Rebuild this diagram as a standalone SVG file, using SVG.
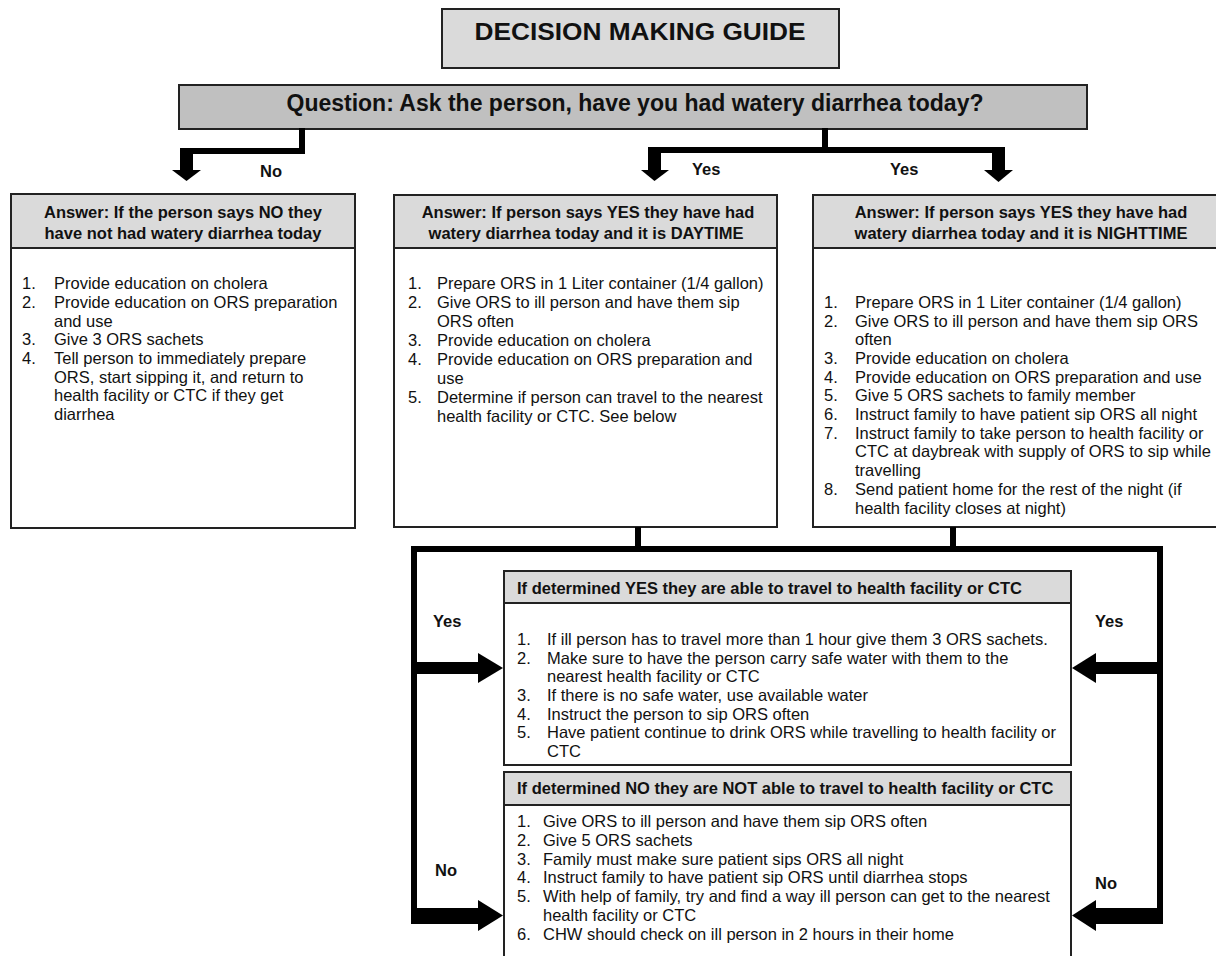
<svg xmlns="http://www.w3.org/2000/svg" width="1216" height="956" viewBox="0 0 1216 956">
  <style>
    text { font-family: "Liberation Sans", Arial, sans-serif; fill: #111; }
    .box { fill: #fff; stroke: #222; stroke-width: 2; }
    .hdr { fill: #dadada; stroke: #222; stroke-width: 2; }
    .qbar { fill: #c0c0c0; stroke: #222; stroke-width: 2; }
    .title { font-size: 24px; font-weight: bold; text-anchor: middle; }
    .q { font-size: 23px; font-weight: bold; text-anchor: middle; }
    .h { font-size: 16.5px; font-weight: bold; text-anchor: middle; }
    .hl { font-size: 16.5px; font-weight: bold; }
    .t { font-size: 16.5px; }
    .lbl { font-size: 16.5px; font-weight: bold; }
    .ln { fill: #000; }
  </style>

  <!-- heading -->
  <g id="title">
    <rect x="442" y="9" width="397" height="59" class="hdr"/>
    <text x="640" y="40" class="title" textLength="331" lengthAdjust="spacingAndGlyphs">DECISION MAKING GUIDE</text>
  </g>

  <g id="question">
    <rect x="179" y="85" width="908" height="44" class="qbar"/>
    <text x="635" y="111" class="q">Question: Ask the person, have you had watery diarrhea today?</text>
  </g>

  <!-- answer: no -->
  <g id="answer-no">
    <rect x="11" y="194" width="344" height="334" class="box"/>
    <rect x="11" y="194" width="344" height="54" class="hdr"/>
    <text x="183" y="218" class="h">Answer: If the person says NO they</text>
    <text x="183" y="239" class="h">have not had watery diarrhea today</text>
    <text y="289" class="t"><tspan x="22">1.</tspan><tspan x="54">Provide education on cholera</tspan></text>
    <text y="308" class="t"><tspan x="22">2.</tspan><tspan x="54">Provide education on ORS preparation</tspan></text>
    <text x="54" y="327" class="t">and use</text>
    <text y="345" class="t"><tspan x="22">3.</tspan><tspan x="54">Give 3 ORS sachets</tspan></text>
    <text y="364" class="t"><tspan x="22">4.</tspan><tspan x="54">Tell person to immediately prepare</tspan></text>
    <text x="54" y="383" class="t">ORS, start sipping it, and return to</text>
    <text x="54" y="401" class="t">health facility or CTC if they get</text>
    <text x="54" y="420" class="t">diarrhea</text>
  </g>

  <!-- answer: yes, daytime -->
  <g id="answer-day">
    <rect x="394" y="195" width="383" height="332" class="box"/>
    <rect x="394" y="195" width="383" height="53" class="hdr"/>
    <text x="588" y="218" class="h">Answer: If person says YES they have had</text>
    <text x="586" y="239" class="h">watery diarrhea today and it is DAYTIME</text>
    <text y="289" class="t"><tspan x="408">1.</tspan><tspan x="437">Prepare ORS in 1 Liter container (1/4 gallon)</tspan></text>
    <text y="308" class="t"><tspan x="408">2.</tspan><tspan x="437">Give ORS to ill person and have them sip</tspan></text>
    <text x="437" y="327" class="t">ORS often</text>
    <text y="346" class="t"><tspan x="408">3.</tspan><tspan x="437">Provide education on cholera</tspan></text>
    <text y="365" class="t"><tspan x="408">4.</tspan><tspan x="437">Provide education on ORS preparation and</tspan></text>
    <text x="437" y="384" class="t">use</text>
    <text y="403" class="t"><tspan x="408">5.</tspan><tspan x="437">Determine if person can travel to the nearest</tspan></text>
    <text x="437" y="422" class="t">health facility or CTC. See below</text>
  </g>

  <!-- answer: yes, nighttime -->
  <g id="answer-night">
    <rect x="813" y="195" width="420" height="332" class="box"/>
    <rect x="813" y="195" width="420" height="53" class="hdr"/>
    <text x="1021" y="218" class="h">Answer: If person says YES they have had</text>
    <text x="1021" y="239" class="h">watery diarrhea today and it is NIGHTTIME</text>
    <text y="308" class="t"><tspan x="824">1.</tspan><tspan x="855">Prepare ORS in 1 Liter container (1/4 gallon)</tspan></text>
    <text y="327" class="t"><tspan x="824">2.</tspan><tspan x="855">Give ORS to ill person and have them sip ORS</tspan></text>
    <text x="855" y="345" class="t">often</text>
    <text y="364" class="t"><tspan x="824">3.</tspan><tspan x="855">Provide education on cholera</tspan></text>
    <text y="383" class="t"><tspan x="824">4.</tspan><tspan x="855">Provide education on ORS preparation and use</tspan></text>
    <text y="401" class="t"><tspan x="824">5.</tspan><tspan x="855">Give 5 ORS sachets to family member</tspan></text>
    <text y="420" class="t"><tspan x="824">6.</tspan><tspan x="855">Instruct family to have patient sip ORS all night</tspan></text>
    <text y="439" class="t"><tspan x="824">7.</tspan><tspan x="855">Instruct family to take person to health facility or</tspan></text>
    <text x="855" y="457" class="t">CTC at daybreak with supply of ORS to sip while</text>
    <text x="855" y="476" class="t">travelling</text>
    <text y="495" class="t"><tspan x="824">8.</tspan><tspan x="855">Send patient home for the rest of the night (if</tspan></text>
    <text x="855" y="514" class="t">health facility closes at night)</text>
  </g>

  <!-- able to travel -->
  <g id="travel-yes">
    <rect x="504" y="571" width="567" height="194" class="box"/>
    <rect x="504" y="571" width="567" height="32" class="hdr"/>
    <text x="517" y="594" class="hl">If determined YES they are able to travel to health facility or CTC</text>
    <text y="645" class="t"><tspan x="517">1.</tspan><tspan x="547">If ill person has to travel more than 1 hour give them 3 ORS sachets.</tspan></text>
    <text y="664" class="t"><tspan x="517">2.</tspan><tspan x="547">Make sure to have the person carry safe water with them to the</tspan></text>
    <text x="547" y="682" class="t">nearest health facility or CTC</text>
    <text y="701" class="t"><tspan x="517">3.</tspan><tspan x="547">If there is no safe water, use available water</tspan></text>
    <text y="720" class="t"><tspan x="517">4.</tspan><tspan x="547">Instruct the person to sip ORS often</tspan></text>
    <text y="738" class="t"><tspan x="517">5.</tspan><tspan x="547">Have patient continue to drink ORS while travelling to health facility or</tspan></text>
    <text x="547" y="757" class="t">CTC</text>
  </g>

  <!-- not able to travel -->
  <g id="travel-no">
    <rect x="504" y="772" width="567" height="190" class="box"/>
    <rect x="504" y="772" width="567" height="33" class="hdr"/>
    <text x="517" y="794" class="hl">If determined NO they are NOT able to travel to health facility or CTC</text>
    <text y="827" class="t"><tspan x="517">1.</tspan><tspan x="543">Give ORS to ill person and have them sip ORS often</tspan></text>
    <text y="846" class="t"><tspan x="517">2.</tspan><tspan x="543">Give 5 ORS sachets</tspan></text>
    <text y="865" class="t"><tspan x="517">3.</tspan><tspan x="543">Family must make sure patient sips ORS all night</tspan></text>
    <text y="883" class="t"><tspan x="517">4.</tspan><tspan x="543">Instruct family to have patient sip ORS until diarrhea stops</tspan></text>
    <text y="902" class="t"><tspan x="517">5.</tspan><tspan x="543">With help of family, try and find a way ill person can get to the nearest</tspan></text>
    <text x="543" y="921" class="t">health facility or CTC</text>
    <text y="940" class="t"><tspan x="517">6.</tspan><tspan x="543">CHW should check on ill person in 2 hours in their home</tspan></text>
  </g>

  <!-- connectors: block elbows and arrows -->
  <g id="connectors">
    <!-- question to "no" -->
    <rect x="299" y="128" width="6" height="26" class="ln"/>
    <rect x="180" y="148" width="125" height="6" class="ln"/>
    <rect x="180" y="148" width="13" height="23" class="ln"/>
    <polygon points="172,170 201,170 186.5,181" class="ln"/>

    <!-- question to the two "yes" boxes -->
    <rect x="822" y="128" width="6" height="25" class="ln"/>
    <rect x="648" y="147" width="357" height="6" class="ln"/>
    <rect x="648" y="147" width="13" height="24" class="ln"/>
    <polygon points="641,170 669,170 654.5,181" class="ln"/>
    <rect x="992" y="147" width="13" height="24" class="ln"/>
    <polygon points="984,170 1013,170 998.5,182" class="ln"/>

    <!-- frame from daytime/nighttime boxes to the travel boxes -->
    <rect x="635" y="527" width="6" height="24" class="ln"/>
    <rect x="950" y="527" width="6" height="24" class="ln"/>
    <rect x="411" y="546" width="752" height="6" class="ln"/>
    <rect x="411" y="546" width="6" height="378" class="ln"/>
    <rect x="1157" y="546" width="6" height="378" class="ln"/>

    <!-- left arrows -->
    <rect x="411" y="662" width="69" height="12" class="ln"/>
    <polygon points="478,653 478,683 503,668" class="ln"/>
    <rect x="411" y="908" width="69" height="16" class="ln"/>
    <polygon points="478,900 478,931 503,915.5" class="ln"/>

    <!-- right arrows -->
    <rect x="1094" y="662" width="69" height="12" class="ln"/>
    <polygon points="1096,653 1096,683 1072,668" class="ln"/>
    <rect x="1094" y="908" width="69" height="16" class="ln"/>
    <polygon points="1096,900 1096,931 1072,915.5" class="ln"/>

    <text x="260" y="177" class="lbl">No</text>
    <text x="692" y="175" class="lbl">Yes</text>
    <text x="890" y="175" class="lbl">Yes</text>
    <text x="433" y="627" class="lbl">Yes</text>
    <text x="1095" y="627" class="lbl">Yes</text>
    <text x="435" y="876" class="lbl">No</text>
    <text x="1095" y="889" class="lbl">No</text>
  </g>
</svg>
